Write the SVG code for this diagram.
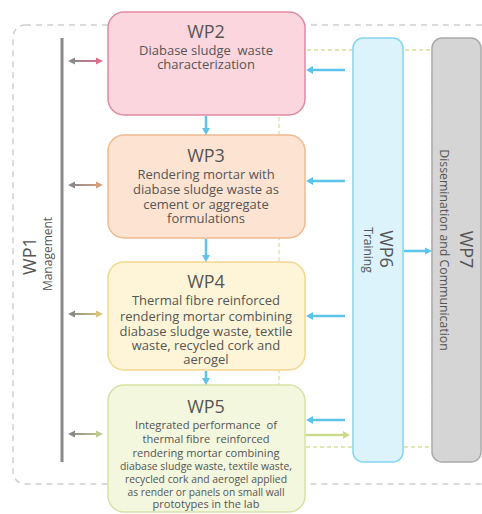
<svg xmlns="http://www.w3.org/2000/svg" width="482" height="514" viewBox="0 0 482 514">
<style>
text{font-family:"Open Sans","Noto Sans","DejaVu Sans",sans-serif;fill:#555;text-anchor:middle}
.t{font-size:18px}
.b{font-size:12px}
.m{font-size:13px}
.xs{font-size:11.3px}
.box{stroke-width:1.5}
.blue{stroke:#5cc4ea;stroke-width:2.5;fill:none}
.bh{fill:#5cc4ea}
</style>
<defs>
<linearGradient id="g2" gradientUnits="userSpaceOnUse" x1="70" y1="0" x2="101" y2="0"><stop offset="0" stop-color="#8a8a8a"/><stop offset="1" stop-color="#d9708a"/></linearGradient>
<linearGradient id="g3" gradientUnits="userSpaceOnUse" x1="70" y1="0" x2="101" y2="0"><stop offset="0" stop-color="#8a8a8a"/><stop offset="1" stop-color="#d4a07e"/></linearGradient>
<linearGradient id="g4" gradientUnits="userSpaceOnUse" x1="70" y1="0" x2="101" y2="0"><stop offset="0" stop-color="#8a8a8a"/><stop offset="1" stop-color="#d9c475"/></linearGradient>
<linearGradient id="g5" gradientUnits="userSpaceOnUse" x1="70" y1="0" x2="101" y2="0"><stop offset="0" stop-color="#8a8a8a"/><stop offset="1" stop-color="#bccb8e"/></linearGradient>
</defs>
<g id="frames">
<rect x="13" y="25" width="500" height="459" rx="12" fill="none" stroke="#cfcfcf" stroke-width="1.5" stroke-dasharray="6 5"/>
<rect x="279" y="50" width="153" height="397" fill="none" stroke="#d6e0a0" stroke-width="1.3" stroke-dasharray="4 3"/>
</g>
<g id="wp1">
<line x1="62" y1="38" x2="62" y2="462" stroke="#8a8a8a" stroke-width="3"/>
<text class="t" transform="translate(36,256) rotate(-90)">WP1</text>
<text class="b" transform="translate(52,254) rotate(-90)">Management</text>
</g>
<g id="wp2">
<rect class="box" x="108" y="12" width="197" height="103" rx="16" fill="#fbd6df" stroke="#e08aa0"/>
<text class="t" x="206" y="38">WP2</text>
<text class="m" x="206" y="55">Diabase sludge&#160; waste</text>
<text class="m" x="206" y="69">characterization</text>
</g>
<g id="wp3">
<rect class="box" x="108" y="135" width="197" height="103" rx="16" fill="#fde4d2" stroke="#eebb92"/>
<text class="t" x="206" y="162">WP3</text>
<text class="m" x="206" y="179">Rendering mortar with</text>
<text class="m" x="206" y="194">diabase sludge waste as</text>
<text class="m" x="206" y="209">cement or aggregate</text>
<text class="m" x="206" y="223">formulations</text>
</g>
<g id="wp4">
<rect class="box" x="108" y="262" width="197" height="108" rx="16" fill="#fef5d8" stroke="#f1d88e"/>
<text class="t" x="206" y="288">WP4</text>
<text class="m" x="206" y="305">Thermal fibre reinforced</text>
<text class="m" x="206" y="321">rendering mortar combining</text>
<text class="m" x="206" y="336">diabase sludge waste, textile</text>
<text class="m" x="206" y="350">waste, recycled cork and</text>
<text class="m" x="206" y="364">aerogel</text>
</g>
<g id="wp5">
<rect class="box" x="108" y="385" width="197" height="127" rx="16" fill="#f2f7de" stroke="#d5e2a6"/>
<text class="t" x="206" y="413">WP5</text>
<text class="xs" x="206" y="429" textLength="142" lengthAdjust="spacingAndGlyphs">Integrated performance&#160; of</text>
<text class="xs" x="206" y="443" textLength="127" lengthAdjust="spacingAndGlyphs">thermal fibre&#160; reinforced</text>
<text class="xs" x="206" y="457" textLength="147" lengthAdjust="spacingAndGlyphs">rendering mortar combining</text>
<text class="xs" x="206" y="470" textLength="172" lengthAdjust="spacingAndGlyphs">diabase sludge waste, textile waste,</text>
<text class="xs" x="206" y="483" textLength="162" lengthAdjust="spacingAndGlyphs">recycled cork and aerogel applied</text>
<text class="xs" x="206" y="496" textLength="157" lengthAdjust="spacingAndGlyphs">as render or panels on small wall</text>
<text class="xs" x="206" y="508" textLength="107" lengthAdjust="spacingAndGlyphs">prototypes in the lab</text>
</g>
<g id="wp6">
<rect class="box" x="353" y="38" width="50" height="424" rx="10" fill="#dcf3fc" stroke="#84d5f0"/>
<text class="t" transform="translate(380,249) rotate(90)">WP6</text>
<text class="b" transform="translate(364,250) rotate(90)">Training</text>
</g>
<g id="wp7">
<rect class="box" x="432" y="38" width="49" height="424" rx="10" fill="#d5d5d5" stroke="#ababab"/>
<text class="t" transform="translate(460,249.5) rotate(90)">WP7</text>
<text class="b" transform="translate(440,250) rotate(90)" style="font-size:12.3px">Dissemination and Communication</text>
</g>
<g id="connectors">
<line x1="73" y1="61" x2="98" y2="61" stroke="url(#g2)" stroke-width="2"/>
<polygon points="68,61 75,57.5 75,64.5" fill="#8a8a8a"/><polygon points="103,61 96,57.5 96,64.5" fill="#d9708a"/>
<line x1="73" y1="185" x2="98" y2="185" stroke="url(#g3)" stroke-width="2"/>
<polygon points="68,185 75,181.5 75,188.5" fill="#8a8a8a"/><polygon points="103,185 96,181.5 96,188.5" fill="#d4a07e"/>
<line x1="73" y1="314" x2="98" y2="314" stroke="url(#g4)" stroke-width="2"/>
<polygon points="68,314 75,310.5 75,317.5" fill="#8a8a8a"/><polygon points="103,314 96,310.5 96,317.5" fill="#d9c475"/>
<line x1="73" y1="434" x2="98" y2="434" stroke="url(#g5)" stroke-width="2"/>
<polygon points="68,434 75,430.5 75,437.5" fill="#8a8a8a"/><polygon points="103,434 96,430.5 96,437.5" fill="#bccb8e"/>
<line class="blue" x1="206" y1="116" x2="206" y2="129"/><polygon class="bh" points="206,135 202,128 210,128"/>
<line class="blue" x1="206" y1="239" x2="206" y2="256"/><polygon class="bh" points="206,262 202,255 210,255"/>
<line class="blue" x1="206" y1="371" x2="206" y2="379"/><polygon class="bh" points="206,385 202,378 210,378"/>
<line class="blue" x1="345" y1="70" x2="312" y2="70"/><polygon class="bh" points="306,70 313,66 313,74"/>
<line class="blue" x1="345" y1="181" x2="312" y2="181"/><polygon class="bh" points="306,181 313,177 313,185"/>
<line class="blue" x1="345" y1="316" x2="312" y2="316"/><polygon class="bh" points="306,316 313,312 313,320"/>
<line class="blue" x1="345" y1="420" x2="312" y2="420"/><polygon class="bh" points="306,420 313,416 313,424"/>
<line x1="306" y1="435" x2="344" y2="435" stroke="#c9dc8c" stroke-width="2.5"/><polygon points="350,435 343,431 343,439" fill="#c9dc8c"/>
<line class="blue" x1="404" y1="251" x2="426" y2="251" stroke-width="2"/><polygon class="bh" points="432,251 425,247.5 425,254.5"/>
</g>
</svg>
